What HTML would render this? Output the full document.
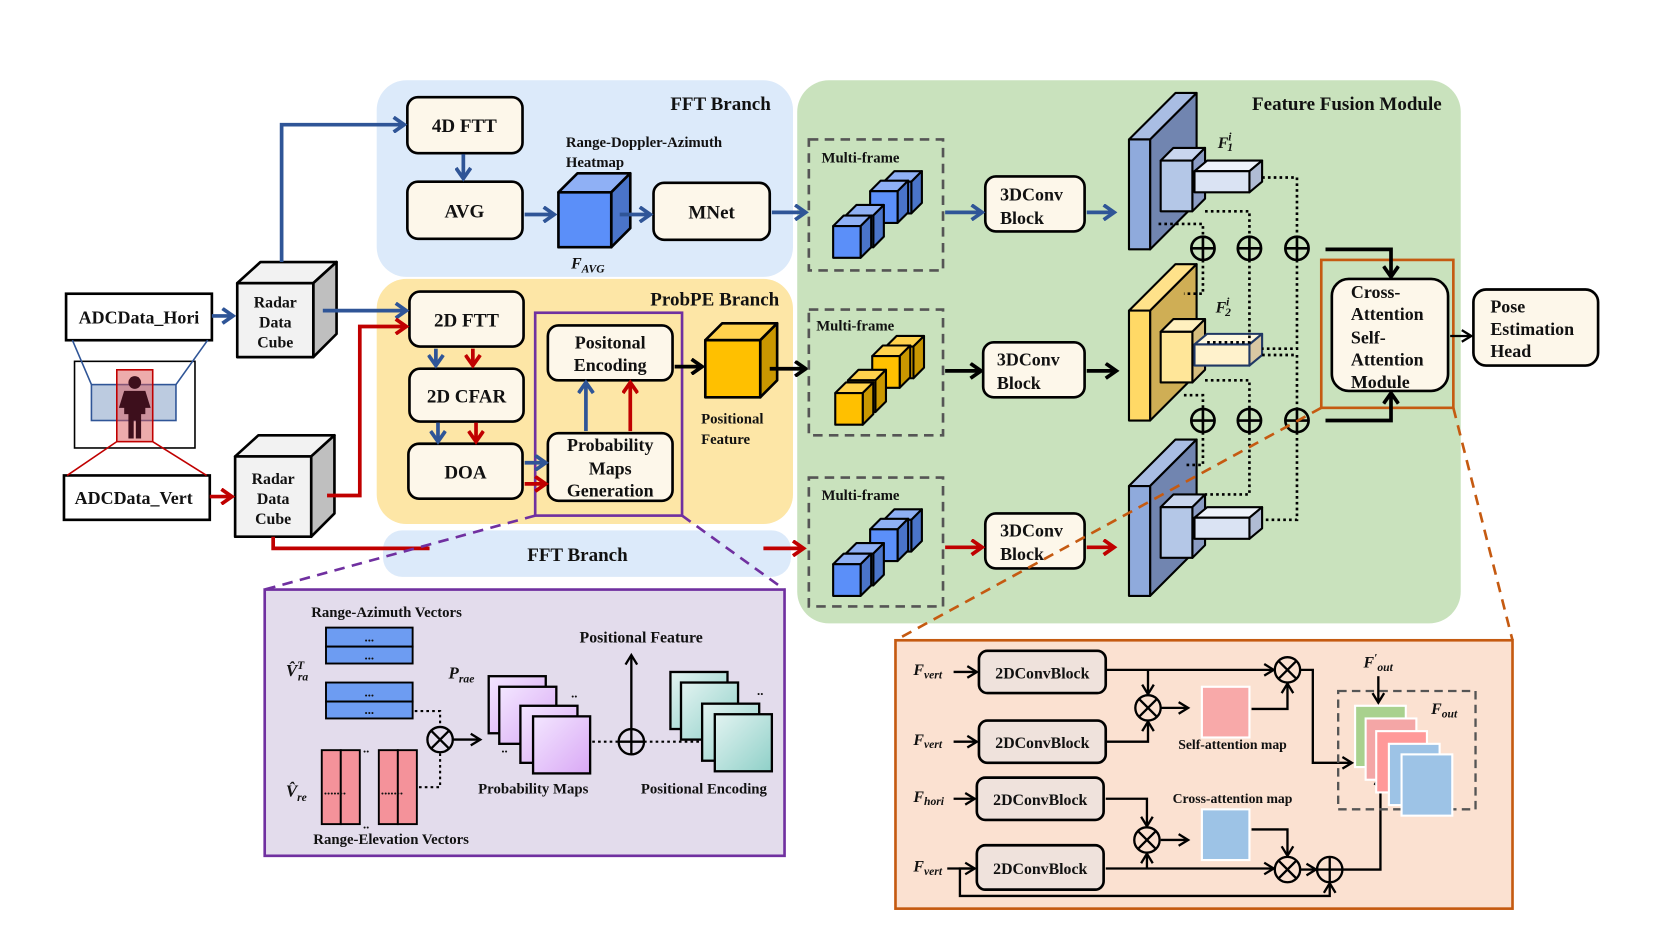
<!DOCTYPE html>
<html><head><meta charset="utf-8"><style>
html,body{margin:0;padding:0;background:#fff;}
svg{display:block;}
text{font-family:"Liberation Serif",serif;font-weight:bold;fill:#111;}
</style></head><body>
<svg width="1661" height="934" viewBox="0 0 1571 884" xmlns="http://www.w3.org/2000/svg">
<defs>
<marker id="mb" markerUnits="userSpaceOnUse" markerWidth="16" markerHeight="16" refX="12" refY="8" orient="auto"><path d="M2,1 L12,8 L2,15" fill="none" stroke="#2f5597" stroke-width="3.5"/></marker>
<marker id="mr" markerUnits="userSpaceOnUse" markerWidth="16" markerHeight="16" refX="12" refY="8" orient="auto"><path d="M2,1 L12,8 L2,15" fill="none" stroke="#c00000" stroke-width="3.5"/></marker>
<marker id="mk" markerUnits="userSpaceOnUse" markerWidth="16" markerHeight="16" refX="12" refY="8" orient="auto"><path d="M2,1 L12,8 L2,15" fill="none" stroke="#000" stroke-width="3.5"/></marker>
<marker id="mt" markerUnits="userSpaceOnUse" markerWidth="14" markerHeight="14" refX="11" refY="7" orient="auto"><path d="M2,1.5 L11,7 L2,12.5" fill="none" stroke="#000" stroke-width="2.2"/></marker>
<linearGradient id="gp" x1="0" y1="0" x2="1" y2="1"><stop offset="0" stop-color="#f3e6ff"/><stop offset="1" stop-color="#d9a8f5"/></linearGradient>
<linearGradient id="gt" x1="0" y1="0" x2="1" y2="1"><stop offset="0" stop-color="#e2f3f1"/><stop offset="1" stop-color="#8fd0c8"/></linearGradient>
</defs>

<!-- backgrounds -->
<rect x="356" y="76" width="394" height="186" rx="28" fill="#dceafa"/>
<rect x="356" y="264" width="394" height="232" rx="28" fill="#fde6a6"/>
<rect x="362" y="502" width="386" height="44" rx="18" fill="#dceafa"/>
<rect x="754" y="76" width="628" height="514" rx="30" fill="#c9e2bd"/>
<text x="729" y="104" font-size="18" text-anchor="end">FFT Branch</text>
<text x="737" y="289" font-size="18" text-anchor="end">ProbPE Branch</text>
<text x="1364" y="104" font-size="18" text-anchor="end">Feature Fusion Module</text>
<text x="546" y="531" font-size="18" text-anchor="middle">FFT Branch</text>

<!-- input boxes -->
<rect x="62" y="278" width="138" height="44" fill="#fff" stroke="#000" stroke-width="2.5"/>
<text x="131" y="306" font-size="17" text-anchor="middle">ADCData_Hori</text>
<rect x="60" y="450" width="138" height="42" fill="#fff" stroke="#000" stroke-width="2.5"/>
<text x="126" y="477" font-size="17" text-anchor="middle">ADCData_Vert</text>
<rect x="70" y="342" width="114" height="82" fill="#fff" stroke="#000" stroke-width="1.5"/>
<line x1="68" y1="322" x2="86" y2="364" stroke="#2f5597" stroke-width="1.5"/>
<line x1="196" y1="322" x2="166" y2="364" stroke="#2f5597" stroke-width="1.5"/>
<rect x="86" y="364" width="80" height="34" fill="#bccbe0" stroke="#2f5597" stroke-width="1.5"/>
<rect x="110" y="350" width="34" height="68" fill="rgba(220,90,90,0.5)" stroke="#c00000" stroke-width="1.5"/>
<line x1="110" y1="418" x2="63" y2="450" stroke="#c00000" stroke-width="1.5"/>
<line x1="144" y1="418" x2="195" y2="450" stroke="#c00000" stroke-width="1.5"/>
<circle cx="127" cy="362" r="6" fill="#3d0f1c"/>
<path d="M117,370 L137,370 L142,386 L137,386 L137,392 L133,392 L133,415 L128,415 L128,398 L126,398 L126,415 L121,415 L121,392 L117,392 L117,386 L112,386 Z" fill="#3d0f1c"/>

<!-- radar cubes -->
<g stroke="#000" stroke-width="2.5" stroke-linejoin="round">
<polygon points="224,268 246,248 318,248 296,268" fill="#f2f2f2"/>
<polygon points="296,268 318,248 318,316 296,338" fill="#bfbfbf"/>
<rect x="224" y="268" width="72" height="70" fill="#f2f2f2"/>
<polygon points="222,432 244,412 316,412 294,432" fill="#f2f2f2"/>
<polygon points="294,432 316,412 316,486 294,508" fill="#bfbfbf"/>
<rect x="222" y="432" width="72" height="76" fill="#f2f2f2"/>
</g>
<text font-size="15" text-anchor="middle"><tspan x="260" y="291">Radar</tspan><tspan x="260" y="310">Data</tspan><tspan x="260" y="329">Cube</tspan></text>
<text font-size="15" text-anchor="middle"><tspan x="258" y="458">Radar</tspan><tspan x="258" y="477">Data</tspan><tspan x="258" y="496">Cube</tspan></text>

<!-- process boxes -->
<g fill="#fdf7ea" stroke="#000" stroke-width="2.5">
<rect x="385" y="92" width="109" height="53" rx="10"/>
<rect x="385" y="172" width="109" height="54" rx="10"/>
<rect x="618" y="173" width="110" height="54" rx="10"/>
<rect x="387" y="276" width="108" height="52" rx="10"/>
<rect x="387" y="349" width="108" height="50" rx="10"/>
<rect x="386" y="420" width="108" height="52" rx="10"/>
<rect x="518" y="308" width="118" height="52" rx="10"/>
<rect x="518" y="410" width="118" height="64" rx="10"/>
<rect x="932" y="167" width="94" height="52" rx="10"/>
<rect x="930" y="324" width="96" height="52" rx="10"/>
<rect x="932" y="486" width="94" height="52" rx="10"/>
<rect x="1260" y="264" width="110" height="106" rx="16"/>
<rect x="1394" y="274" width="118" height="72" rx="12"/>
</g>
<g font-size="18" text-anchor="middle">
<text x="439" y="125">4D FTT</text>
<text x="439" y="206">AVG</text>
<text x="673" y="207">MNet</text>
<text x="441" y="309">2D FTT</text>
<text x="441" y="381">2D CFAR</text>
<text x="440" y="453">DOA</text>
</g>
<text font-size="17" text-anchor="middle"><tspan x="577" y="330">Positonal</tspan><tspan x="577" y="351">Encoding</tspan></text>
<text font-size="17" text-anchor="middle"><tspan x="577" y="427">Probability</tspan><tspan x="577" y="449">Maps</tspan><tspan x="577" y="470">Generation</tspan></text>
<text font-size="17"><tspan x="946" y="190">3DConv</tspan><tspan x="946" y="212">Block</tspan></text>
<text font-size="17"><tspan x="943" y="346">3DConv</tspan><tspan x="943" y="368">Block</tspan></text>
<text font-size="17"><tspan x="946" y="508">3DConv</tspan><tspan x="946" y="530">Block</tspan></text>
<text font-size="17"><tspan x="1278" y="282">Cross-</tspan><tspan x="1278" y="303">Attention</tspan><tspan x="1278" y="325">Self-</tspan><tspan x="1278" y="346">Attention</tspan><tspan x="1278" y="367">Module</tspan></text>
<text font-size="17"><tspan x="1410" y="296">Pose</tspan><tspan x="1410" y="317">Estimation</tspan><tspan x="1410" y="338">Head</tspan></text>

<!-- heatmap cube -->
<g stroke="#000" stroke-width="2.5" stroke-linejoin="round">
<polygon points="528,182 546,164 596,164 578,182" fill="#8fb0f5"/>
<polygon points="578,182 596,164 596,216 578,234" fill="#4a74c9"/>
<rect x="528" y="182" width="50" height="52" fill="#5b8ff9"/>
<polygon points="667,322 683,306 735,306 719,322" fill="#ffd24d"/>
<polygon points="719,322 735,306 735,360 719,376" fill="#c99700"/>
<rect x="667" y="322" width="52" height="54" fill="#ffc000"/>
</g>
<text x="535" y="139" font-size="14">Range-Doppler-Azimuth</text>
<text x="535" y="158" font-size="14">Heatmap</text>
<text x="540" y="254" font-size="15" font-style="italic">F<tspan font-size="11" dy="4">AVG</tspan></text>
<text font-size="14"><tspan x="663" y="401">Positional</tspan><tspan x="663" y="420">Feature</tspan></text>

<!-- purple & orange highlight -->
<rect x="506" y="296" width="139" height="192" fill="none" stroke="#7030a0" stroke-width="2.5"/>
<rect x="1250" y="246" width="125" height="140" fill="none" stroke="#c55a11" stroke-width="2.5"/>

<!-- arrows blue -->
<g fill="none" stroke="#2f5597" stroke-width="3.5">
<path d="M200,299 L220,299" marker-end="url(#mb)"/>
<path d="M266,248 L266,118 L382,118" marker-end="url(#mb)"/>
<path d="M305,294 L384,294" marker-end="url(#mb)"/>
<path d="M438,146 L438,169" marker-end="url(#mb)"/>
<path d="M496,203 L524,203" marker-end="url(#mb)"/>
<path d="M586,203 L615,203" marker-end="url(#mb)"/>
<path d="M730,201 L762,201" marker-end="url(#mb)"/>
<path d="M412,330 L412,346" marker-end="url(#mb)"/>
<path d="M414,400 L414,418" marker-end="url(#mb)"/>
<path d="M496,438 L516,438" marker-end="url(#mb)"/>
<path d="M554,408 L554,362" marker-end="url(#mb)"/>
<path d="M894,201 L929,201" marker-end="url(#mb)"/>
<path d="M1028,201 L1054,201" marker-end="url(#mb)"/>
</g>
<!-- arrows red -->
<g fill="none" stroke="#c00000" stroke-width="3.5">
<path d="M198,470 L219,470" marker-end="url(#mr)"/>
<path d="M309,469 L340,469 L340,309 L384,309" marker-end="url(#mr)"/>
<path d="M258,508 L258,519 L406,519"/>
<path d="M722,519 L760,519" marker-end="url(#mr)"/>
<path d="M447,330 L447,346" marker-end="url(#mr)"/>
<path d="M450,400 L450,418" marker-end="url(#mr)"/>
<path d="M496,458 L516,458" marker-end="url(#mr)"/>
<path d="M596,408 L596,362" marker-end="url(#mr)"/>
<path d="M894,518 L929,518" marker-end="url(#mr)"/>
<path d="M1028,518 L1054,518" marker-end="url(#mr)"/>
</g>
<!-- arrows black -->
<g fill="none" stroke="#000" stroke-width="3.5">
<path d="M638,347 L664,347" marker-end="url(#mk)"/>
<path d="M728,349 L762,349" marker-end="url(#mk)"/>
<path d="M894,351 L928,351" marker-end="url(#mk)"/>
<path d="M1028,351 L1056,351" marker-end="url(#mk)"/>
<path d="M1254,236 L1316,236 L1316,262" marker-end="url(#mk)"/>
<path d="M1254,398 L1316,398 L1316,372" marker-end="url(#mk)"/>
</g>
<path d="M1372,318 L1392,318" fill="none" stroke="#000" stroke-width="2.2" marker-end="url(#mt)"/>

<!-- multi-frame boxes -->
<g fill="none" stroke="#555" stroke-width="2.5" stroke-dasharray="9,6">
<rect x="765" y="132" width="127" height="124"/>
<rect x="765" y="293" width="127" height="119"/>
<rect x="765" y="452" width="127" height="122"/>
</g>
<text x="777" y="154" font-size="14">Multi-frame</text>
<text x="772" y="313" font-size="14">Multi-frame</text>
<text x="777" y="473" font-size="14">Multi-frame</text>

<g stroke="#000" stroke-width="2" stroke-linejoin="round">
<!-- blue cubes top -->
<g id="cb" fill="#5b8ff9">
<polygon points="836,172 846,162 872,162 862,172" fill="#8fb0f5"/><polygon points="862,172 872,162 872,192 862,202" fill="#4a74c9"/><rect x="836" y="172" width="26" height="30"/>
<polygon points="823,181 833,171 859,171 849,181" fill="#8fb0f5"/><polygon points="849,181 859,171 859,201 849,211" fill="#4a74c9"/><rect x="823" y="181" width="26" height="30"/>
<polygon points="800,204 810,194 836,194 826,204" fill="#8fb0f5"/><polygon points="826,204 836,194 836,224 826,234" fill="#4a74c9"/><rect x="800" y="204" width="26" height="30"/>
<polygon points="788,214 798,204 824,204 814,214" fill="#8fb0f5"/><polygon points="814,214 824,204 824,234 814,244" fill="#4a74c9"/><rect x="788" y="214" width="26" height="30"/>
</g>
<use href="#cb" x="0" y="320"/>
<g fill="#ffc000">
<polygon points="838,328 848,318 874,318 864,328" fill="#ffd24d"/><polygon points="864,328 874,318 874,348 864,358" fill="#c99700"/><rect x="838" y="328" width="26" height="30"/>
<polygon points="825,337 835,327 861,327 851,337" fill="#ffd24d"/><polygon points="851,337 861,327 861,357 851,367" fill="#c99700"/><rect x="825" y="337" width="26" height="30"/>
<polygon points="802,360 812,350 838,350 828,360" fill="#ffd24d"/><polygon points="828,360 838,350 838,380 828,390" fill="#c99700"/><rect x="802" y="360" width="26" height="30"/>
<polygon points="790,372 800,362 826,362 816,372" fill="#ffd24d"/><polygon points="816,372 826,362 826,392 816,402" fill="#c99700"/><rect x="790" y="372" width="26" height="30"/>
</g>

<!-- feature pyramids -->
<g id="pyb">
<polygon points="1068,132 1112,88 1132,88 1088,132" fill="#a9bde3"/>
<polygon points="1088,132 1132,88 1132,192 1088,236" fill="#7185b0"/>
<rect x="1068" y="132" width="20" height="104" fill="#8faadc"/>
<polygon points="1098,152 1110,140 1140,140 1128,152" fill="#c9d6ee"/>
<polygon points="1128,152 1140,140 1140,188 1128,200" fill="#8b9cc4"/>
<rect x="1098" y="152" width="30" height="48" fill="#b4c7e7"/>
<polygon points="1130,162 1142,152 1194,152 1182,162" fill="#eef2fa"/>
<polygon points="1182,162 1194,152 1194,172 1182,182" fill="#b0bcd4"/>
<rect x="1130" y="162" width="52" height="20" fill="#dae3f3"/>
</g>
<use href="#pyb" x="0" y="328"/>
<polygon points="1068,294 1112,250 1132,250 1088,294" fill="#ffe28a"/>
<polygon points="1088,294 1132,250 1132,354 1088,398" fill="#cfae55"/>
<rect x="1068" y="294" width="20" height="104" fill="#ffd966"/>
<polygon points="1098,314 1110,302 1140,302 1128,314" fill="#fff0bf"/>
<polygon points="1128,314 1140,302 1140,350 1128,362" fill="#d6bd7e"/>
<rect x="1098" y="314" width="30" height="48" fill="#ffe699"/>
<polygon points="1130,326 1142,316 1194,316 1182,326" fill="#fff8df" stroke="#203864"/>
<polygon points="1182,326 1194,316 1194,336 1182,346" fill="#d9c8a3" stroke="#203864"/>
<rect x="1130" y="326" width="52" height="20" fill="#fff2cc" stroke="#203864"/>
</g>
<text x="1152" y="140" font-size="15" font-style="italic">F<tspan font-size="11" dy="-7">i</tspan><tspan font-size="11" dx="-4" dy="10">1</tspan></text>
<text x="1150" y="296" font-size="15" font-style="italic">F<tspan font-size="11" dy="-7">i</tspan><tspan font-size="11" dx="-4" dy="10">2</tspan></text>

<!-- dotted connections -->
<g fill="none" stroke="#000" stroke-width="2.5" stroke-dasharray="2.5,3">
<path d="M1194,168 L1227,168 L1227,224"/>
<path d="M1140,200 L1182,200 L1182,224"/>
<path d="M1096,212 L1138,212 L1138,224"/>
<path d="M1138,246 L1138,278 L1120,278"/>
<path d="M1182,246 L1182,324 L1140,324"/>
<path d="M1227,246 L1227,330 L1194,330"/>
<path d="M1120,374 L1138,374 L1138,387"/>
<path d="M1140,360 L1182,360 L1182,387"/>
<path d="M1194,336 L1227,336 L1227,387"/>
<path d="M1138,409 L1138,440 L1120,440"/>
<path d="M1182,409 L1182,468 L1140,468"/>
<path d="M1227,409 L1227,492 L1194,492"/>
</g>
<g fill="none" stroke="#000" stroke-width="2.5">
<circle cx="1138" cy="235" r="11"/><circle cx="1182" cy="235" r="11"/><circle cx="1227" cy="235" r="11"/>
<circle cx="1138" cy="398" r="11"/><circle cx="1182" cy="398" r="11"/><circle cx="1227" cy="398" r="11"/>
<path d="M1127,235 h22 M1138,224 v22 M1171,235 h22 M1182,224 v22 M1216,235 h22 M1227,224 v22 M1127,398 h22 M1138,387 v22 M1171,398 h22 M1182,387 v22 M1216,398 h22 M1227,387 v22"/>
</g>

<!-- zoom connector dashes -->
<g fill="none" stroke-width="2.5" stroke-dasharray="10,7">
<path d="M506,488 L250,558" stroke="#7030a0"/>
<path d="M645,488 L742,558" stroke="#7030a0"/>
<path d="M1250,386 L847,606" stroke="#c55a11"/>
<path d="M1375,386 L1431,606" stroke="#c55a11"/>
</g>

<!-- purple panel -->
<rect x="250" y="558" width="492" height="252" fill="#e3dcec" stroke="#7030a0" stroke-width="2.5"/>
<text x="294" y="584" font-size="14">Range-Azimuth Vectors</text>
<g stroke="#000" stroke-width="1.8">
<rect x="308" y="594" width="82" height="18" fill="#6d9cf2"/><rect x="308" y="612" width="82" height="16" fill="#6d9cf2"/>
<rect x="308" y="646" width="82" height="18" fill="#6d9cf2"/><rect x="308" y="664" width="82" height="16" fill="#6d9cf2"/>
<rect x="304" y="710" width="18" height="70" fill="#f4929a"/><rect x="322" y="710" width="18" height="70" fill="#f4929a"/>
<rect x="358" y="710" width="18" height="70" fill="#f4929a"/><rect x="376" y="710" width="18" height="70" fill="#f4929a"/>
</g>
<g font-size="12" text-anchor="middle"><text x="349" y="607">...</text><text x="349" y="624">...</text><text x="349" y="659">...</text><text x="349" y="676">...</text></g>
<g font-size="12"><text x="306" y="752">.......</text><text x="360" y="752">.......</text><text x="343" y="712">..</text><text x="343" y="784">..</text></g>
<text x="270" y="640" font-size="16" font-style="italic">V̂<tspan font-size="11" dy="-7">T</tspan><tspan font-size="11" dx="-6" dy="11">ra</tspan></text>
<text x="270" y="754" font-size="16" font-style="italic">V̂<tspan font-size="11" dy="4">re</tspan></text>
<text x="296" y="799" font-size="14">Range-Elevation Vectors</text>
<g fill="none" stroke="#000" stroke-width="2" stroke-dasharray="2.5,3"><path d="M392,673 L416,673 L416,688"/><path d="M396,745 L416,745 L416,712"/></g>
<circle cx="416" cy="700" r="12" fill="none" stroke="#000" stroke-width="2.2"/>
<path d="M408,692 L424,708 M424,692 L408,708" stroke="#000" stroke-width="2.2"/>
<path d="M428,700 L454,700" stroke="#000" stroke-width="2.2" fill="none" marker-end="url(#mt)"/>
<text x="424" y="642" font-size="16" font-style="italic">P<tspan font-size="11" dy="4">rae</tspan></text>
<g stroke="#000" stroke-width="2.2" fill="url(#gp)">
<rect x="462" y="640" width="54" height="54"/><rect x="472" y="650" width="54" height="54"/><rect x="492" y="668" width="54" height="54"/><rect x="504" y="678" width="54" height="54"/>
</g>
<text x="540" y="660" font-size="12">..</text><text x="474" y="712" font-size="12">..</text>
<text x="452" y="751" font-size="14">Probability Maps</text>
<text x="548" y="608" font-size="15">Positional Feature</text>
<path d="M560,702 L585,702 M609,702 L676,702" stroke="#000" stroke-width="2" stroke-dasharray="2.5,3" fill="none"/>
<path d="M597,690 L597,620" stroke="#000" stroke-width="2.2" fill="none" marker-end="url(#mt)"/>
<circle cx="597" cy="702" r="12" fill="none" stroke="#000" stroke-width="2.2"/>
<path d="M585,702 h24 M597,690 v24" stroke="#000" stroke-width="2.2"/>
<g stroke="#000" stroke-width="2.2" fill="url(#gt)">
<rect x="634" y="636" width="54" height="54"/><rect x="644" y="646" width="54" height="54"/><rect x="664" y="666" width="54" height="54"/><rect x="676" y="676" width="54" height="54"/>
</g>
<text x="716" y="658" font-size="12">..</text>
<text x="606" y="751" font-size="14">Positional Encoding</text>

<!-- orange panel -->
<rect x="847" y="606" width="584" height="254" fill="#fbe1d1" stroke="#c55a11" stroke-width="2.5"/>
<g fill="#efe2dc" stroke="#000" stroke-width="2.5">
<rect x="926" y="616" width="120" height="40" rx="8"/>
<rect x="926" y="682" width="120" height="40" rx="8"/>
<rect x="924" y="736" width="120" height="40" rx="8"/>
<rect x="924" y="800" width="120" height="42" rx="8"/>
</g>
<g font-size="15" text-anchor="middle">
<text x="986" y="642">2DConvBlock</text><text x="986" y="708">2DConvBlock</text><text x="984" y="762">2DConvBlock</text><text x="984" y="827">2DConvBlock</text>
</g>
<g font-size="15" font-style="italic">
<text x="864" y="639">F<tspan font-size="11" dy="3">vert</tspan></text>
<text x="864" y="705">F<tspan font-size="11" dy="3">vert</tspan></text>
<text x="864" y="759">F<tspan font-size="11" dy="3">hori</tspan></text>
<text x="864" y="825">F<tspan font-size="11" dy="3">vert</tspan></text>
<text x="1290" y="632">F<tspan font-size="11" dy="-6">′</tspan><tspan font-size="11" dy="9">out</tspan></text>
<text x="1354" y="676">F<tspan font-size="11" dy="3">out</tspan></text>
</g>
<g fill="none" stroke="#000" stroke-width="2.2">
<path d="M902,636 L924,636" marker-end="url(#mt)"/>
<path d="M902,702 L924,702" marker-end="url(#mt)"/>
<path d="M902,756 L922,756" marker-end="url(#mt)"/>
<path d="M1046,634 L1205,634" marker-end="url(#mt)"/>
<path d="M1086,634 L1086,657" marker-end="url(#mt)"/>
<path d="M1046,702 L1086,702 L1086,683" marker-end="url(#mt)"/>
<path d="M1098,670 L1124,670" marker-end="url(#mt)"/>
<path d="M1184,671 L1218,671 L1218,647" marker-end="url(#mt)"/>
<path d="M1230,634 L1242,634 L1242,722 L1279,722" marker-end="url(#mt)"/>
<path d="M1046,756 L1085,756 L1085,782" marker-end="url(#mt)"/>
<path d="M1046,822 L1205,822" marker-end="url(#mt)"/>
<path d="M1085,822 L1085,808" marker-end="url(#mt)"/>
<path d="M1098,795 L1124,795" marker-end="url(#mt)"/>
<path d="M1184,785 L1218,785 L1218,810" marker-end="url(#mt)"/>
<path d="M1230,823 L1245,823" marker-end="url(#mt)"/>
<path d="M1270,823 L1306,823 L1306,734" marker-end="url(#mt)"/>
<path d="M922,822 L908,822 L908,848 L1258,848 L1258,836" marker-end="url(#mt)"/>
<path d="M896,822 L922,822" marker-end="url(#mt)"/>
<path d="M1304,640 L1304,665" marker-end="url(#mt)"/>
<circle cx="1218" cy="634" r="12"/><path d="M1210,626 L1226,642 M1226,626 L1210,642"/>
<circle cx="1086" cy="670" r="12"/><path d="M1078,662 L1094,678 M1094,662 L1078,678"/>
<circle cx="1085" cy="795" r="12"/><path d="M1077,787 L1093,803 M1093,787 L1077,803"/>
<circle cx="1218" cy="823" r="12"/><path d="M1210,815 L1226,831 M1226,815 L1210,831"/>
<circle cx="1258" cy="823" r="12"/><path d="M1246,823 h24 M1258,811 v24"/>
</g>
<rect x="1137" y="650" width="45" height="48" fill="#f8a9a9" stroke="#fff" stroke-width="2"/>
<rect x="1137" y="766" width="45" height="48" fill="#9dc3e6" stroke="#fff" stroke-width="2"/>
<text x="1166" y="709" font-size="13" text-anchor="middle">Self-attention map</text>
<text x="1166" y="760" font-size="13" text-anchor="middle">Cross-attention map</text>
<rect x="1266" y="654" width="130" height="112" fill="none" stroke="#555" stroke-width="2.2" stroke-dasharray="8,5"/>
<g stroke="#fff" stroke-width="2">
<rect x="1282" y="668" width="48" height="58" fill="#a9d18e"/>
<rect x="1292" y="680" width="48" height="58" fill="#f4a6a6"/>
<rect x="1302" y="692" width="48" height="58" fill="#ff9999"/>
<rect x="1314" y="704" width="48" height="58" fill="#9dc3e6"/>
<rect x="1326" y="714" width="48" height="58" fill="#9dc3e6"/>
</g>
</svg>
</body></html>
